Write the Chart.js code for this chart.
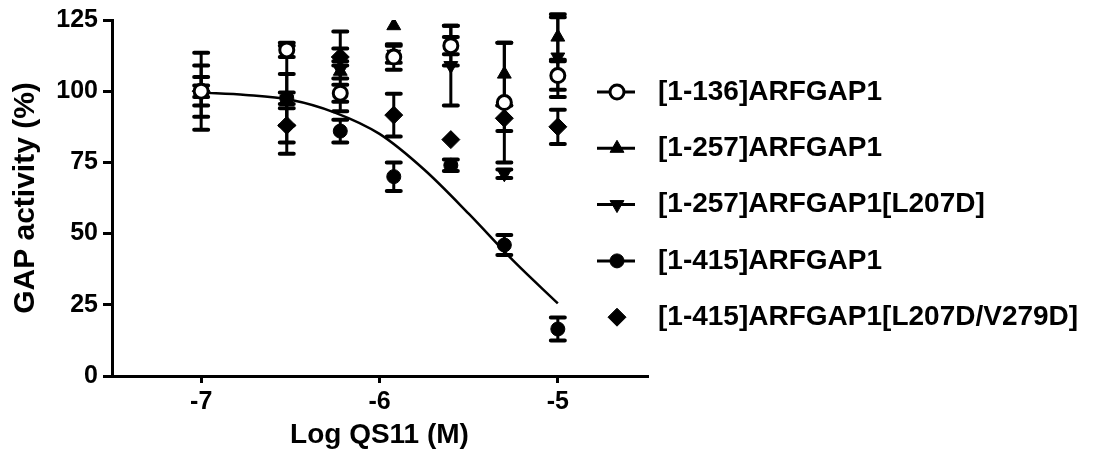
<!DOCTYPE html>
<html><head><meta charset="utf-8">
<script src="https://cdn.jsdelivr.net/npm/chart.js@4/dist/chart.umd.min.js"></script>
<style>html,body{margin:0;padding:0;background:#fff}#wrap{width:1104px;height:462px;position:relative}</style>
</head><body><div id="wrap"><canvas id="c" width="1104" height="462"></canvas></div>
<script>
// ---- data ----
const logConc = [-7, -6.52, -6.22, -5.92, -5.6, -5.3, -5];
const xTicks = [-7, -6, -5];
const seriesLabels = ['[1-136]ARFGAP1', '[1-257]ARFGAP1', '[1-257]ARFGAP1[L207D]', '[1-415]ARFGAP1', '[1-415]ARFGAP1[L207D/V279D]'];
const mean136 = [100, 114.5, 99.3, 112, 116, 96, 105.5];
const sem136 = [2, 2.5, 3, 4.5, 7, 21, 5];
const mean257 = [100, 97, 107, 123, 116, 106, 119];
const sem257 = [13.5, 9, 14, 0, 3, 11, 8];
const meanL207D = [100, 97, 107.5, 113, 109, 71, 112];
const semL207D = [9, 19, 3, 3, 14, 1.5, 14];
const mean415 = [100, 97.5, 86, 70, 74, 46, 16.5];
const sem415 = [5, 2, 4, 5, 2, 3.5, 4];
const meanDouble = [100, 88, 112, 91.6, 83, 90.5, 87.5];
const semDouble = [0, 6, 3, 7.5, 0, 4.5, 6];
const fitX = [-7, -6.75, -6.5, -6.25, -6, -5.75, -5.5, -5.25, -5];
const fitY = [99.5, 98.7, 97, 92.5, 85, 72.5, 57, 40.5, 25.5];
const legendHasLine = [true, true, true, true, false];

const FONT = 'Liberation Sans, Arial, Helvetica, sans-serif';
const toPts = (m) => logConc.map((x, i) => ({x: x, y: m[i]}));

const styles = [
  {pointStyle: 'circle', radius: 7, rotation: 0, bg: '#fff'},
  {pointStyle: 'triangle', radius: 8, rotation: 0, bg: '#000'},
  {pointStyle: 'triangle', radius: 8, rotation: 180, bg: '#000'},
  {pointStyle: 'circle', radius: 7, rotation: 0, bg: '#000'},
  {pointStyle: 'rectRot', radius: 9, rotation: 0, bg: '#000'}
];
const means = [mean136, mean257, meanL207D, mean415, meanDouble];
const sems = [sem136, sem257, semL207D, sem415, semDouble];

const datasets = means.map((m, i) => ({
  type: 'scatter',
  label: seriesLabels[i],
  data: toPts(m),
  errors: sems[i],
  pointStyle: styles[i].pointStyle,
  pointRadius: styles[i].radius,
  pointRotation: styles[i].rotation,
  pointBackgroundColor: styles[i].bg,
  pointBorderColor: '#000',
  pointBorderWidth: i === 0 ? 3 : 1,
  showLine: false
}));
datasets.push({
  type: 'line',
  label: 'fit',
  data: fitX.map((x, i) => ({x: x, y: fitY[i]})),
  borderColor: '#000',
  borderWidth: 2.5,
  pointRadius: 0,
  cubicInterpolationMode: 'monotone',
  fill: false
});

const errorBars = {
  id: 'errorBars',
  beforeDatasetsDraw(chart) {
    const ctx = chart.ctx, xs = chart.scales.x, ys = chart.scales.y;
    ctx.save();
    ctx.strokeStyle = '#000';
    chart.data.datasets.forEach((ds) => {
      if (!ds.errors) return;
      ds.data.forEach((p, j) => {
        const e = ds.errors[j];
        if (!e) return;
        const px = xs.getPixelForValue(p.x);
        const yt = ys.getPixelForValue(p.y + e);
        const yb = ys.getPixelForValue(p.y - e);
        ctx.lineWidth = 3; ctx.lineCap = 'butt';
        ctx.beginPath(); ctx.moveTo(px, yt); ctx.lineTo(px, yb); ctx.stroke();
        ctx.lineWidth = 4; ctx.lineCap = 'round';
        ctx.beginPath();
        ctx.moveTo(px - 7, yt); ctx.lineTo(px + 7, yt);
        ctx.moveTo(px - 7, yb); ctx.lineTo(px + 7, yb);
        ctx.stroke();
      });
    });
    ctx.restore();
  }
};

const customLegend = {
  id: 'customLegend',
  afterDraw(chart) {
    const ctx = chart.ctx;
    const markerX = 617, lineX1 = 597, lineX2 = 635, textX = 658, rowY0 = 92, rowStep = 56.3;
    ctx.save();
    seriesLabels.forEach((lab, i) => {
      const y = rowY0 + i * rowStep;
      ctx.strokeStyle = '#000';
      if (legendHasLine[i]) {
        ctx.lineWidth = 3;
        ctx.beginPath(); ctx.moveTo(lineX1, y); ctx.lineTo(lineX2, y); ctx.stroke();
      }
      ctx.fillStyle = styles[i].bg;
      ctx.lineWidth = i === 0 ? 3 : 1;
      Chart.helpers.drawPoint(ctx, {pointStyle: styles[i].pointStyle, radius: styles[i].radius, rotation: styles[i].rotation, borderWidth: ctx.lineWidth}, markerX, y);
      ctx.fillStyle = '#000';
      ctx.font = 'bold 28px ' + FONT;
      ctx.textAlign = 'left';
      ctx.textBaseline = 'middle';
      ctx.fillText(lab, textX, y);
    });
    ctx.restore();
  }
};

new Chart(document.getElementById('c'), {
  data: {datasets: datasets},
  options: {
    responsive: false,
    animation: false,
    layout: {padding: {top: 20, right: 457, left: 0, bottom: 0}},
    plugins: {legend: {display: false}, tooltip: {enabled: false}},
    scales: {
      x: {
        type: 'linear', min: -7.5, max: -4.5,
        afterBuildTicks: (s) => { s.ticks = xTicks.map(v => ({value: v})); },
        afterFit: (s) => { s.height = 86; },
        grid: {drawOnChartArea: false, drawTicks: true, tickLength: 7, lineWidth: 3, color: '#000'},
        border: {display: true, color: '#000', width: 3},
        ticks: {color: '#000', font: {family: FONT, size: 25, weight: 'bold'}, padding: 4},
        title: {display: true, text: 'Log QS11 (M)', color: '#000', font: {family: FONT, size: 28, weight: 'bold'}, padding: {top: 0, bottom: 10}}
      },
      y: {
        type: 'linear', min: 0, max: 125,
        afterFit: (s) => { s.width = 112; },
        grid: {drawOnChartArea: false, drawTicks: true, tickLength: 9, lineWidth: 3, color: '#000'},
        border: {display: true, color: '#000', width: 3},
        ticks: {stepSize: 25, color: '#000', font: {family: FONT, size: 25, weight: 'bold'}, padding: 5},
        title: {display: true, text: 'GAP activity (%)', color: '#000', font: {family: FONT, size: 30, weight: 'bold'}, padding: {top: 8, bottom: 0}}
      }
    }
  },
  plugins: [errorBars, customLegend]
});
</script>
</body></html>
